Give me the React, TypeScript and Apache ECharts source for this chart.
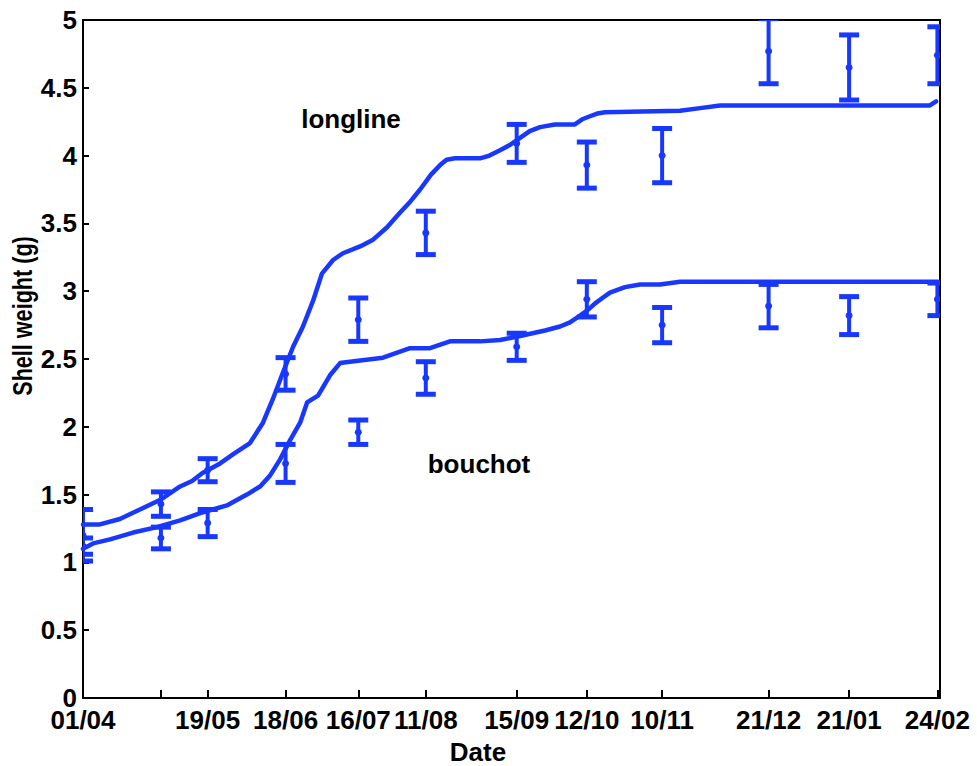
import React, { useEffect, useRef } from "react";
import * as echarts from "echarts";

// x values are days since 01/04
const TICK_DAYS = [0, 30, 48, 78, 106, 132, 167, 194, 223, 264, 295, 329];
const LABEL_DAYS = [0, 48, 78, 106, 132, 167, 194, 223, 264, 295, 329];
const LABEL_TEXTS = ["01/04", "19/05", "18/06", "16/07", "11/08", "15/09", "12/10", "10/11", "21/12", "21/01", "24/02"];

const SAMPLE_DAYS = [0, 30, 48, 78, 106, 132, 167, 194, 223, 264, 295, 329];
const LONGLINE_MEAN = [1.2, 1.43, 1.68, 2.39, 2.79, 3.43, 4.09, 3.93, 4.0, 4.77, 4.65, 4.74];
const LONGLINE_ERR = [0.19, 0.09, 0.085, 0.12, 0.16, 0.16, 0.14, 0.17, 0.2, 0.24, 0.24, 0.21];
const BOUCHOT_MEAN = [1.12, 1.18, 1.29, 1.73, 1.96, 2.36, 2.59, 2.94, 2.75, 2.89, 2.82, 2.94];
const BOUCHOT_ERR = [0.06, 0.08, 0.1, 0.14, 0.09, 0.12, 0.1, 0.13, 0.13, 0.16, 0.14, 0.12];

const LONGLINE_CURVE_DAYS = [0, 6.5, 14.2, 21.9, 29.6, 37.4, 42, 46, 52.8, 58, 64.3, 69.3, 73, 77, 80.9, 84.7, 88.6, 92, 96.3, 100.1, 106.7, 111.7, 117, 122.1, 126, 129.8, 134, 137.5, 140, 143.2, 152.9, 156.5, 160.6, 164.5, 168.3, 172, 176, 181.7, 189.4, 192.5, 195.2, 198, 201, 229.9, 237.6, 245.3, 326.1, 328.5];
const LONGLINE_CURVE_VALUES = [1.28, 1.28, 1.32, 1.39, 1.46, 1.56, 1.6, 1.66, 1.73, 1.8, 1.88, 2.03, 2.2, 2.4, 2.59, 2.74, 2.93, 3.13, 3.23, 3.28, 3.33, 3.38, 3.47, 3.58, 3.66, 3.75, 3.86, 3.93, 3.97, 3.98, 3.98, 4.0, 4.04, 4.08, 4.13, 4.18, 4.21, 4.23, 4.23, 4.27, 4.29, 4.31, 4.32, 4.33, 4.35, 4.37, 4.37, 4.4];

const BOUCHOT_CURVE_DAYS = [0, 3.9, 10.4, 19.3, 28.5, 37.4, 46.2, 55.4, 63.1, 68.2, 72, 75.9, 79.7, 83.6, 86.3, 90.5, 95.1, 99, 102.8, 115.5, 125.9, 133.6, 141.3, 152.9, 160.6, 168.3, 177.9, 183.7, 187.5, 191.4, 194.3, 197.2, 200, 202.9, 205.8, 208.7, 214.5, 222.2, 229.9, 329.2];
const BOUCHOT_CURVE_VALUES = [1.1, 1.14, 1.17, 1.22, 1.26, 1.31, 1.37, 1.42, 1.5, 1.56, 1.64, 1.76, 1.9, 2.03, 2.18, 2.23, 2.38, 2.47, 2.48, 2.51, 2.58, 2.58, 2.63, 2.63, 2.64, 2.67, 2.71, 2.74, 2.77, 2.82, 2.86, 2.91, 2.95, 2.99, 3.01, 3.03, 3.05, 3.05, 3.07, 3.07];

const BLUE = "#1838ff";
const FONT = "'Liberation Sans', Arial, sans-serif";

const zip = (a: number[], b: number[]) => a.map((v, i) => [v, b[i]]);
const bars = (d: number[], m: number[], e: number[]) => d.map((v, i) => [v, m[i], e[i]]);

function renderErrorBar(params: any, api: any) {
  const x = api.value(0);
  const m = api.value(1);
  const e = api.value(2);
  const top = api.coord([x, m + e]);
  const bot = api.coord([x, m - e]);
  const c = api.coord([x, m]);
  const hw = 10;
  return {
    type: "group",
    children: [
      { type: "line", shape: { x1: top[0], y1: top[1], x2: bot[0], y2: bot[1] }, style: { stroke: BLUE, lineWidth: 4 } },
      { type: "line", shape: { x1: top[0] - hw, y1: top[1], x2: top[0] + hw, y2: top[1] }, style: { stroke: BLUE, lineWidth: 5 } },
      { type: "line", shape: { x1: bot[0] - hw, y1: bot[1], x2: bot[0] + hw, y2: bot[1] }, style: { stroke: BLUE, lineWidth: 5 } },
      { type: "circle", shape: { cx: c[0], cy: c[1], r: 3.5 }, style: { fill: BLUE } },
    ],
  };
}

export default function App() {
  const ref = useRef<HTMLDivElement>(null);
  useEffect(() => {
    if (!ref.current) return;
    const chart = echarts.init(ref.current, null, { renderer: "svg" });
    const labelMap: Record<number, string> = {};
    LABEL_DAYS.forEach((d, i) => (labelMap[d] = LABEL_TEXTS[i]));
    const curveStyle = { color: BLUE, width: 4.5, join: "round" as const, cap: "round" as const };
    chart.setOption({
      animation: false,
      backgroundColor: "#fff",
      grid: { left: 83, right: 37, top: 20, bottom: 68, show: true, borderColor: "#000", borderWidth: 2, backgroundColor: "transparent" },
      xAxis: {
        type: "value",
        min: 0,
        max: 330,
        axisLine: { show: true, onZero: false, lineStyle: { color: "#000", width: 2 } },
        axisTick: { show: true, inside: true, length: 8, customValues: TICK_DAYS, lineStyle: { color: "#000", width: 2 } },
        axisLabel: {
          customValues: LABEL_DAYS,
          formatter: (v: number) => labelMap[v] ?? "",
          color: "#000",
          fontFamily: FONT,
          fontWeight: "bold",
          fontSize: 26,
          lineHeight: 20,
          margin: 12,
        },
        splitLine: { show: false },
      },
      yAxis: {
        type: "value",
        min: 0,
        max: 5,
        interval: 0.5,
        axisLine: { show: true, lineStyle: { color: "#000", width: 2 } },
        axisTick: { show: true, inside: true, length: 6, lineStyle: { color: "#000", width: 2 } },
        axisLabel: { color: "#000", fontFamily: FONT, fontWeight: "bold", fontSize: 26, lineHeight: 18, margin: 6 },
        splitLine: { show: false },
      },
      graphic: [
        { type: "text", x: 351, y: 119, style: { text: "longline", font: `bold 26px ${FONT}`, fill: "#000", textAlign: "center", textVerticalAlign: "middle" } },
        { type: "text", x: 479, y: 464, style: { text: "bouchot", font: `bold 26px ${FONT}`, fill: "#000", textAlign: "center", textVerticalAlign: "middle" } },
        { type: "text", x: 478, y: 752, style: { text: "Date", font: `bold 26px ${FONT}`, fill: "#000", textAlign: "center", textVerticalAlign: "middle" } },
        { type: "text", x: 23, y: 316, rotation: Math.PI / 2, scaleX: 0.8, style: { text: "Shell weight (g)", font: `bold 27px ${FONT}`, fill: "#000", textAlign: "center", textVerticalAlign: "middle" } },
      ],
      series: [
        { type: "line", data: zip(LONGLINE_CURVE_DAYS, LONGLINE_CURVE_VALUES), showSymbol: false, smooth: false, lineStyle: curveStyle, itemStyle: { color: BLUE }, z: 2 },
        { type: "line", data: zip(BOUCHOT_CURVE_DAYS, BOUCHOT_CURVE_VALUES), showSymbol: false, smooth: false, lineStyle: curveStyle, itemStyle: { color: BLUE }, z: 2 },
        { type: "custom", renderItem: renderErrorBar, data: bars(SAMPLE_DAYS, LONGLINE_MEAN, LONGLINE_ERR), clip: true, z: 3 },
        { type: "custom", renderItem: renderErrorBar, data: bars(SAMPLE_DAYS, BOUCHOT_MEAN, BOUCHOT_ERR), clip: true, z: 3 },
      ],
    });
    return () => chart.dispose();
  }, []);
  return <div ref={ref} style={{ position: "fixed", left: 0, top: 0, width: 977, height: 766 }} />;
}
